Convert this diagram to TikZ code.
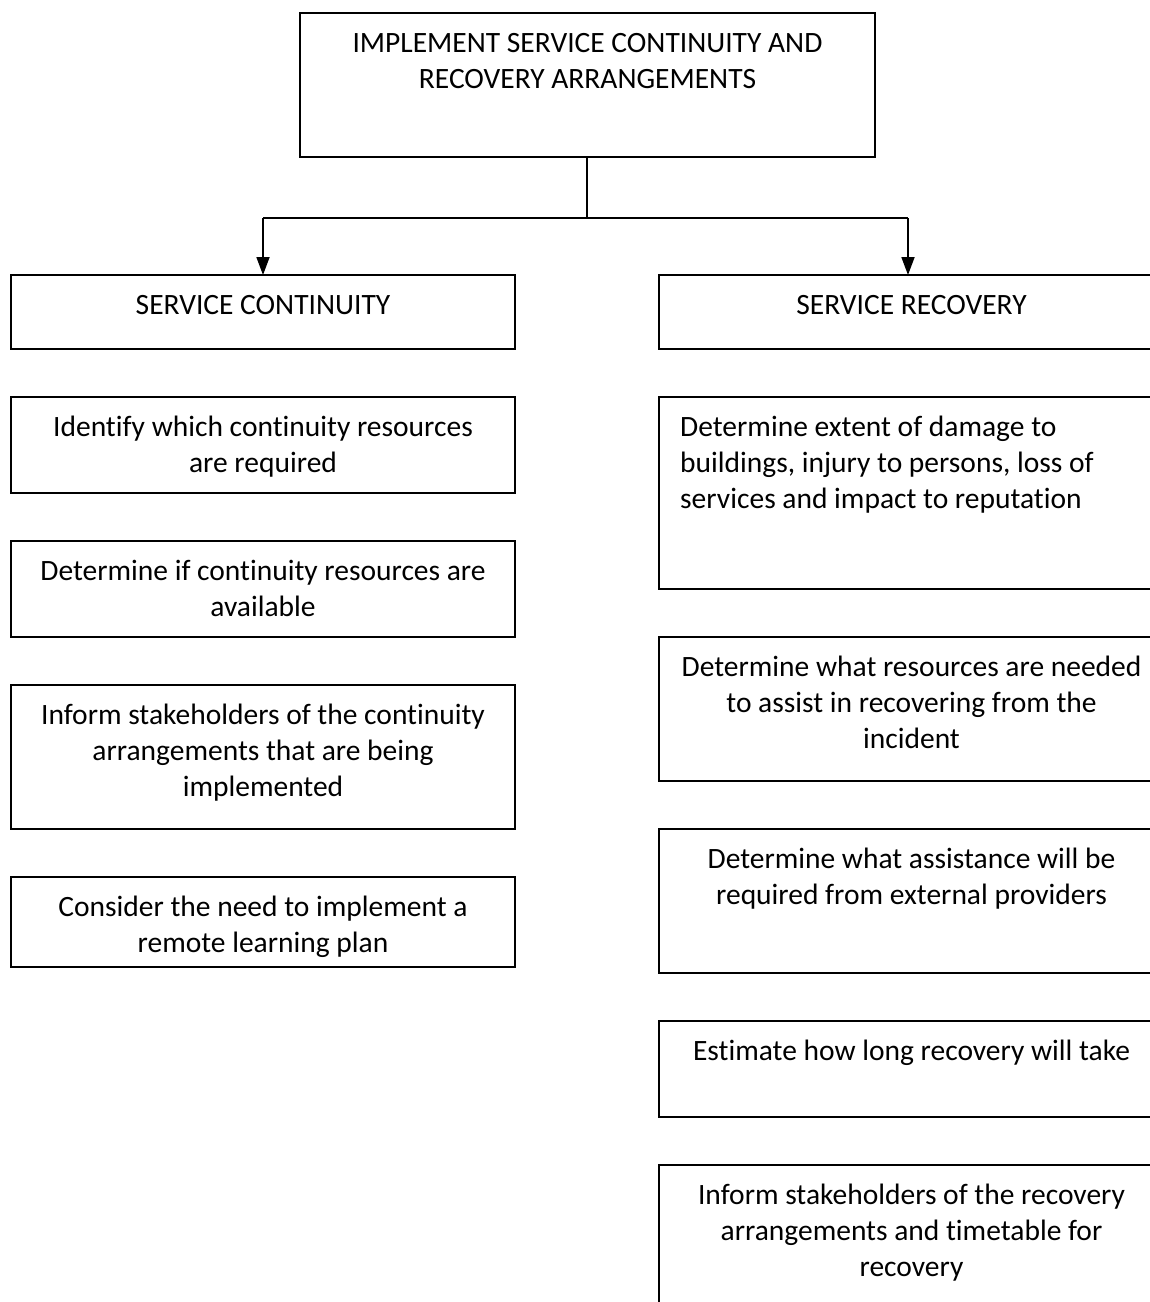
\documentclass[tikz,border=0pt]{standalone}
\usepackage{fontspec}
\setmainfont{Carlito}[Ligatures={NoCommon}]
\usetikzlibrary{arrows.meta}
\begin{document}
\begin{tikzpicture}[x=1pt,y=-1pt,
  box/.style={draw=black,line width=1.8pt,anchor=north west,inner sep=0pt,outer sep=0pt},
  txt/.style={font=\fontsize{29.5}{36}\selectfont,align=center,inner sep=0pt,anchor=north},
  ltxt/.style={font=\fontsize{29.5}{36}\selectfont,align=left,inner sep=0pt,anchor=north west},
  conn/.style={line width=1.8pt},
  arr/.style={line width=1.8pt,-{Triangle[width=13pt,length=18pt]}}]
\useasboundingbox (0,0) rectangle (1150,1302);
\clip (0,0) rectangle (1150,1302);
% top
\node[box,minimum width=575pt,minimum height=144pt] (top) at (300,13) {};
\node[txt] (topt) at ([yshift=-13.8pt]top.north) {\strut IMPLEMENT SERVICE CONTINUITY AND\\RECOVERY ARRANGEMENTS};
% left column
\node[box,minimum width=504pt,minimum height=74pt] (sc) at (11,275) {};
\node[txt] (sct) at ([yshift=-13.8pt]sc.north) {\strut SERVICE CONTINUITY};
\node[box,minimum width=504pt,minimum height=96pt] (l1) at (11,397) {};
\node[txt] (l1t) at ([yshift=-13.8pt]l1.north) {\strut Identify which continuity resources\\are required};
\node[box,minimum width=504pt,minimum height=96pt] (l2) at (11,541) {};
\node[txt] (l2t) at ([yshift=-13.8pt]l2.north) {\strut Determine if continuity resources are\\available};
\node[box,minimum width=504pt,minimum height=144pt] (l3) at (11,685) {};
\node[txt] (l3t) at ([yshift=-13.8pt]l3.north) {\strut Inform stakeholders of the continuity\\arrangements that are being\\implemented};
\node[box,minimum width=504pt,minimum height=90pt] (l4) at (11,877) {};
\node[txt] (l4t) at ([yshift=-13.8pt]l4.north) {\strut Consider the need to implement a\\remote learning plan};
% right column
\node[box,minimum width=505pt,minimum height=74pt] (sr) at (659,275) {};
\node[txt] (srt) at ([yshift=-13.8pt]sr.north) {\strut SERVICE RECOVERY};
\node[box,minimum width=505pt,minimum height=192pt] (r1) at (659,397) {};
\node[ltxt] (r1t) at (680,410.8) {\strut Determine extent of damage to\\buildings, injury to persons, loss of\\services and impact to reputation};
\node[box,minimum width=505pt,minimum height=144pt] (r2) at (659,637) {};
\node[txt] (r2t) at ([yshift=-13.8pt]r2.north) {\strut Determine what resources are needed\\to assist in recovering from the\\incident};
\node[box,minimum width=505pt,minimum height=144pt] (r3) at (659,829) {};
\node[txt] (r3t) at ([yshift=-13.8pt]r3.north) {\strut Determine what assistance will be\\required from external providers};
\node[box,minimum width=505pt,minimum height=96pt] (r4) at (659,1021) {};
\node[txt] (r4t) at ([yshift=-13.8pt]r4.north) {\strut Estimate how long recovery will take};
\node[box,minimum width=505pt,minimum height=160pt] (r5) at (659,1165) {};
\node[txt] (r5t) at ([yshift=-13.8pt]r5.north) {\strut Inform stakeholders of the recovery\\arrangements and timetable for\\recovery};
% connectors
\coordinate (j) at (587,218);
\coordinate (jl) at (263,218);
\coordinate (jr) at (908,218);
\draw[conn] (top.south -| j) -- (j);
\draw[conn] (jl) -- (jr);
\draw[arr] (jl) -- (jl |- sc.north);
\draw[arr] (jr) -- (jr |- sr.north);
\end{tikzpicture}
\end{document}
